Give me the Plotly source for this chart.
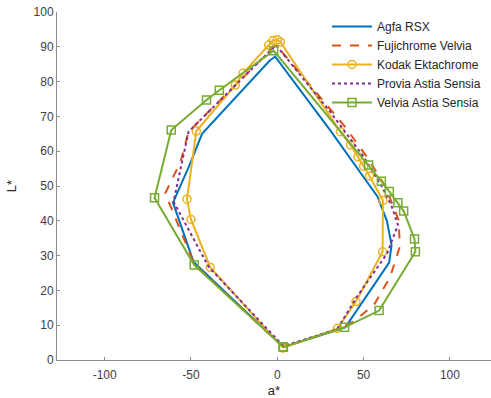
import plotly.graph_objects as go

# Data (a*, L*) for each film gamut boundary
agfa_a = [3.5, -48.5, -60.4, -50.4, -43.6, -4.5, -1.2, 30.7, 58.0, 63.5, 66.2, 64.8, 39.4, 3.5]
agfa_L = [3.7, 28.2, 45.2, 56.5, 65.0, 86.0, 87.2, 66.0, 47.0, 40.0, 33.0, 28.0, 9.4, 3.7]

fuji_a = [3.5, -48.0, -64.9, -56.0, -51.4, -1.0, 3.6, 38.8, 52.0, 62.5, 70.3, 71.0, 65.5, 56.0, 44.0, 35.0, 3.5]
fuji_L = [3.7, 27.5, 47.9, 57.0, 65.6, 90.5, 88.0, 67.3, 58.3, 50.0, 40.2, 32.6, 24.0, 15.8, 11.0, 8.7, 3.7]

kodak_a = [3.3, -38.8, -50.0, -52.3, -46.9, -24.3, -19.9, -5.0, -2.5, 0.0, 1.8, 36.6, 42.4, 46.7, 50.0, 53.4, 61.2, 61.0, 45.6, 34.9, 3.3]
kodak_L = [3.5, 26.6, 40.4, 46.2, 65.8, 79.0, 82.4, 90.5, 91.8, 92.0, 91.4, 65.6, 61.8, 58.4, 55.7, 52.9, 45.8, 31.1, 16.8, 9.1, 3.5]

provia_a = [3.5, -39.8, -60.1, -51.4, -0.8, 30.7, 50.0, 60.7, 66.4, 69.9, 63.6, 46.2, 34.6, 3.5]
provia_L = [4.0, 26.8, 45.5, 65.6, 90.5, 71.3, 58.4, 49.8, 44.0, 38.8, 30.6, 18.2, 8.8, 4.0]

velvia_a = [3.5, -48.1, -71.1, -61.4, -41.0, -33.6, -2.1, 52.9, 60.3, 64.9, 69.9, 73.2, 79.5, 80.0, 59.0, 39.0, 3.5]
velvia_L = [3.7, 27.3, 46.6, 66.1, 74.7, 77.5, 88.9, 56.0, 51.4, 48.4, 45.2, 42.8, 34.8, 31.1, 14.2, 9.4, 3.7]

x_ticks = [-100, -50, 0, 50, 100]
y_ticks = [0, 10, 20, 30, 40, 50, 60, 70, 80, 90, 100]

fig = go.Figure()
fig.add_trace(go.Scatter(x=agfa_a, y=agfa_L, mode="lines", name="Agfa RSX",
                         line=dict(color="#0072BD", width=2)))
fig.add_trace(go.Scatter(x=fuji_a, y=fuji_L, mode="lines", name="Fujichrome Velvia",
                         line=dict(color="#D95319", width=2, dash="dash")))
fig.add_trace(go.Scatter(x=kodak_a, y=kodak_L, mode="lines+markers", name="Kodak Ektachrome",
                         line=dict(color="#EDB120", width=2),
                         marker=dict(symbol="circle-open", size=8, color="#EDB120",
                                     line=dict(width=1.5, color="#EDB120"))))
fig.add_trace(go.Scatter(x=provia_a, y=provia_L, mode="lines", name="Provia Astia Sensia",
                         line=dict(color="#7E2F8E", width=2, dash="dot")))
fig.add_trace(go.Scatter(x=velvia_a, y=velvia_L, mode="lines+markers", name="Velvia Astia Sensia",
                         line=dict(color="#77AC30", width=2),
                         marker=dict(symbol="square-open", size=8, color="#77AC30",
                                     line=dict(width=1.5, color="#77AC30"))))

axis_common = dict(showgrid=False, zeroline=False, showline=True, linecolor="#8c8c8c",
                   linewidth=1, ticks="inside", ticklen=3, tickcolor="#8c8c8c",
                   tickfont=dict(family="Liberation Sans, Arial", size=12, color="#404040"),
                   mirror=False)

fig.update_layout(
    width=491, height=398,
    margin=dict(l=57, r=0, t=12, b=38),
    plot_bgcolor="white", paper_bgcolor="white",
    font=dict(family="Liberation Sans, Arial", size=12, color="#262626"),
    xaxis=dict(range=[-127.6, 123.8], tickvals=x_ticks, ticktext=[str(v) for v in x_ticks],
               ticklabelstandoff=4,
               title=dict(text="a*", standoff=6, font=dict(size=13, color="#262626")),
               **axis_common),
    yaxis=dict(range=[0, 100], tickvals=y_ticks, ticktext=[str(v) for v in y_ticks],
               title=dict(text="L*", standoff=14, font=dict(size=13, color="#262626")),
               **axis_common),
    legend=dict(x=(327 - 57) / 434, y=1 - (12 - 12) / 348, xanchor="left", yanchor="top",
                bgcolor="rgba(255,255,255,0)", borderwidth=0,
                font=dict(family="Liberation Sans, Arial", size=12, color="#262626"),
                itemwidth=40),
    showlegend=True,
)

fig.write_html("out.html")
